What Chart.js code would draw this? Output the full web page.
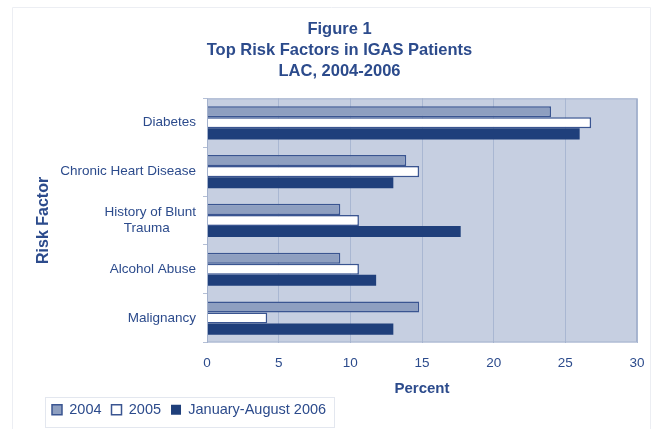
<!DOCTYPE html>
<html>
<head>
<meta charset="utf-8">
<script src="https://cdn.jsdelivr.net/npm/chart.js@4/dist/chart.umd.min.js"></script>
<style>
  html, body { margin: 0; padding: 0; background: #ffffff; }
  #grafico { display: block; }
</style>
</head>
<body>
<canvas id="grafico" width="658" height="429"></canvas>
<script>
// dados
var categorias = ['Diabetes', 'Chronic Heart Disease', ['History of Blunt', 'Trauma       '], 'Alcohol Abuse', 'Malignancy'];
var series = ['2004', '2005', 'January-August 2006'];
var valores2004 = [24.0, 13.9, 9.3, 9.3, 14.8];
var valores2005 = [26.8, 14.8, 10.6, 10.6, 4.2];
var valores2006 = [26.0, 13.0, 17.7, 11.8, 13.0];
var ticksX = [0, 5, 10, 15, 20, 25, 30];

var corTexto = '#2c4b8c';
var fonte = '"Liberation Sans", Arial, sans-serif';

window.addEventListener('load', () => {
    var ctx = document.getElementById('grafico').getContext('2d');

    // fundo da area do grafico, moldura e caixa da legenda
    var molduras = {
        id: 'molduras',
        beforeDraw(chart) {
            var c = chart.ctx;
            var a = chart.chartArea;
            c.save();
            c.fillStyle = '#ffffff';
            c.fillRect(0, 0, chart.width, chart.height);
            c.strokeStyle = '#eceef3';
            c.lineWidth = 1;
            c.beginPath();
            c.moveTo(12.5, chart.height);
            c.lineTo(12.5, 7.5);
            c.lineTo(650.5, 7.5);
            c.lineTo(650.5, chart.height);
            c.stroke();
            c.fillStyle = '#c6cfe1';
            c.fillRect(a.left, a.top, a.right - a.left, a.bottom - a.top);
            c.restore();
        },
        afterDraw(chart) {
            var c = chart.ctx;
            var a = chart.chartArea;
            c.save();
            c.strokeStyle = '#a4b2cd';
            c.lineWidth = 1;
            c.strokeRect(a.left + 0.5, a.top + 0.5, a.right - a.left - 1, a.bottom - a.top - 1);
            var caixas = chart.legend.legendHitBoxes;
            if (caixas && caixas.length) {
                var prim = caixas[0];
                var ult = caixas[caixas.length - 1];
                var x0 = prim.left - 7;
                var x1 = ult.left + ult.width + 8;
                var y0 = prim.top - 6;
                var y1 = prim.top + prim.height + 9;
                c.strokeStyle = '#e3e7ef';
                c.strokeRect(Math.round(x0) + 0.5, Math.round(y0) + 0.5, Math.round(x1 - x0), Math.round(y1 - y0));
            }
            c.restore();
        }
    };

    var myChart = new Chart(ctx, {
        type: 'bar',
        data: {
            labels: categorias,
            datasets: [{
                label: series[0],
                data: valores2004,
                backgroundColor: '#8e9fc0',
                borderColor: '#3a5591',
                borderWidth: 1.5,
                borderSkipped: 'start'
            }, {
                label: series[1],
                data: valores2005,
                backgroundColor: '#ffffff',
                borderColor: '#3a5591',
                borderWidth: 1.5,
                borderSkipped: 'start'
            }, {
                label: series[2],
                data: valores2006,
                backgroundColor: '#1f3f7b',
                borderColor: '#1f3f7b',
                borderWidth: 0
            }]
        },
        options: {
            indexAxis: 'y',
            responsive: false,
            animation: false,
            devicePixelRatio: 1,
            datasets: {
                bar: { categoryPercentage: 0.68, barPercentage: 1.0 }
            },
            layout: {
                padding: { left: 42, right: 21, top: 0, bottom: 2 }
            },
            plugins: {
                title: {
                    display: true,
                    text: ['Figure 1', 'Top Risk Factors in IGAS Patients', 'LAC, 2004-2006'],
                    color: corTexto,
                    font: { family: fonte, size: 16.5, weight: 'bold', lineHeight: 1.28 },
                    padding: { top: 19, bottom: 16 }
                },
                legend: {
                    position: 'bottom',
                    align: 'start',
                    labels: {
                        color: corTexto,
                        font: { family: fonte, size: 14.5 },
                        boxWidth: 10,
                        boxHeight: 10,
                        padding: 10
                    }
                },
                tooltip: { enabled: false }
            },
            scales: {
                x: {
                    min: 0,
                    max: 30,
                    afterBuildTicks(scale) {
                        scale.ticks = ticksX.map(v => ({ value: v }));
                    },
                    afterFit(scale) {
                        scale.height = 50;
                    },
                    grid: {
                        color: '#a9b7d2',
                        drawTicks: false
                    },
                    border: { display: false },
                    ticks: {
                        color: corTexto,
                        font: { family: fonte, size: 13.5 },
                        padding: 13
                    },
                    title: {
                        display: true,
                        text: 'Percent',
                        color: corTexto,
                        font: { family: fonte, size: 15, weight: 'bold' },
                        padding: { top: 0, bottom: -5 }
                    }
                },
                y: {
                    afterFit(scale) {
                        scale.width = 165;
                    },
                    grid: {
                        drawOnChartArea: false,
                        tickLength: 4,
                        color: '#b4bfd6'
                    },
                    border: { display: false },
                    ticks: {
                        color: corTexto,
                        font: { family: fonte, size: 13.5 },
                        padding: 7
                    },
                    title: {
                        display: true,
                        text: 'Risk Factor',
                        color: corTexto,
                        font: { family: fonte, size: 16, weight: 'bold' },
                        padding: { top: -8, bottom: 0 }
                    }
                }
            }
        },
        plugins: [molduras]
    });
});
</script>
</body>
</html>
